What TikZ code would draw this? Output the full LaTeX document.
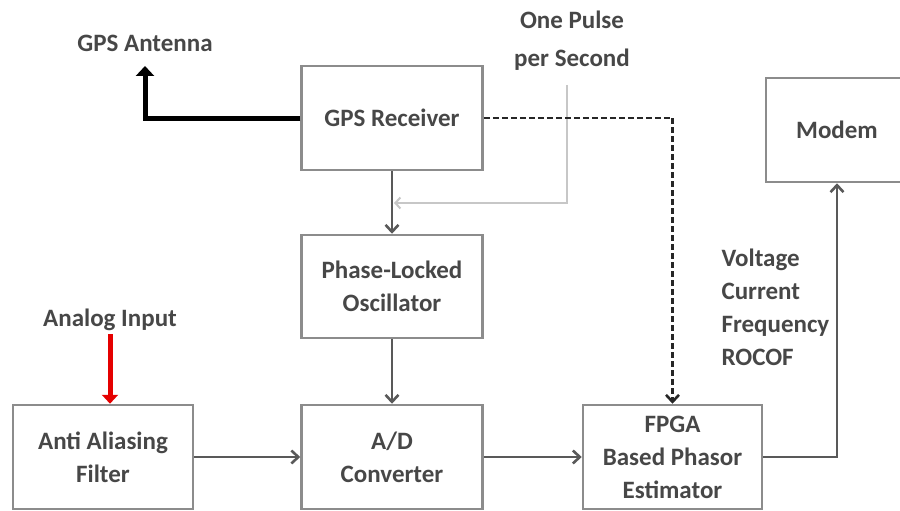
\documentclass[tikz,border=0pt]{standalone}
\usepackage{fontspec}
\setmainfont{Carlito}
\usetikzlibrary{arrows.meta}

\tikzset{
	blk/.style={draw=black!45, line width=2.5pt, align=center, minimum height=104pt},
	flow/.style={draw=black!65, line width=2.6pt, -{Straight Barb[length=7pt,width=13pt,line width=2.6pt]}},
	sync/.style={draw=black!85, line width=2.6pt, dash pattern=on 6pt off 3pt, -{Straight Barb[length=7pt,width=13pt,line width=2.6pt]}},
	pps/.style={draw=black!22, line width=2pt, -{Straight Barb[length=5pt,width=11pt]}},
	antarrow/.style={draw=black, line width=5pt, -{Triangle[length=10pt,width=18pt]}},
	inarrow/.style={draw=red!90!black, line width=5pt, -{Triangle[length=9pt,width=16pt]}}
}

\begin{document}
\begin{tikzpicture}[x=1pt,y=1pt,yscale=-1,every node/.style={font=\fontsize{25}{33}\selectfont\bfseries, text=black!72}]

	\useasboundingbox (0,0) rectangle (900,511);

	\node (gps) at (392,118) [blk, minimum width=181pt] {GPS Receiver};
	\node (plo) at (392,286.5) [blk, minimum width=181pt, minimum height=103pt] {Phase-Locked\\Oscillator};
	\node (adc) at (392,457) [blk, minimum width=181pt] {A/D\\Converter};
	\node (aaf) at (103,457) [blk, minimum width=180pt] {Anti Aliasing\\Filter};
	\node (fpga) at (672.5,457) [blk, minimum width=179pt] {FPGA\\Based Phasor\\Estimator};
	\node (modem) at (837,130) [blk, minimum width=142pt] {Modem};

	\node (ant) at (145,43) {GPS Antenna};
	\node (pulse) at (572,41) [align=center, font=\fontsize{25}{38}\selectfont\bfseries] {One Pulse\\per Second};
	\node (analog) at (110,320) {Analog Input};
	\node (meas) at (718,307) [anchor=west, align=left] {Voltage\\Current\\Frequency\\ROCOF};

	\coordinate (anttip) at (145,66);
	\coordinate (ppstop) at (567,85);
	\coordinate (ppsend) at (394,203);

	\draw[antarrow] (gps.west) -| (anttip);
	\draw[pps] (ppstop) |- (ppsend);
	\draw[sync] (gps.east) -| (fpga.north);
	\draw[flow] (gps) -- (plo);
	\draw[flow] (plo) -- (adc);
	\draw[flow] (aaf) -- (adc);
	\draw[flow] (adc) -- (fpga);
	\draw[flow] (fpga.east) -| (modem.south);
	\draw[inarrow] (analog.south) -- (analog.south |- aaf.north);

\end{tikzpicture}
\end{document}
